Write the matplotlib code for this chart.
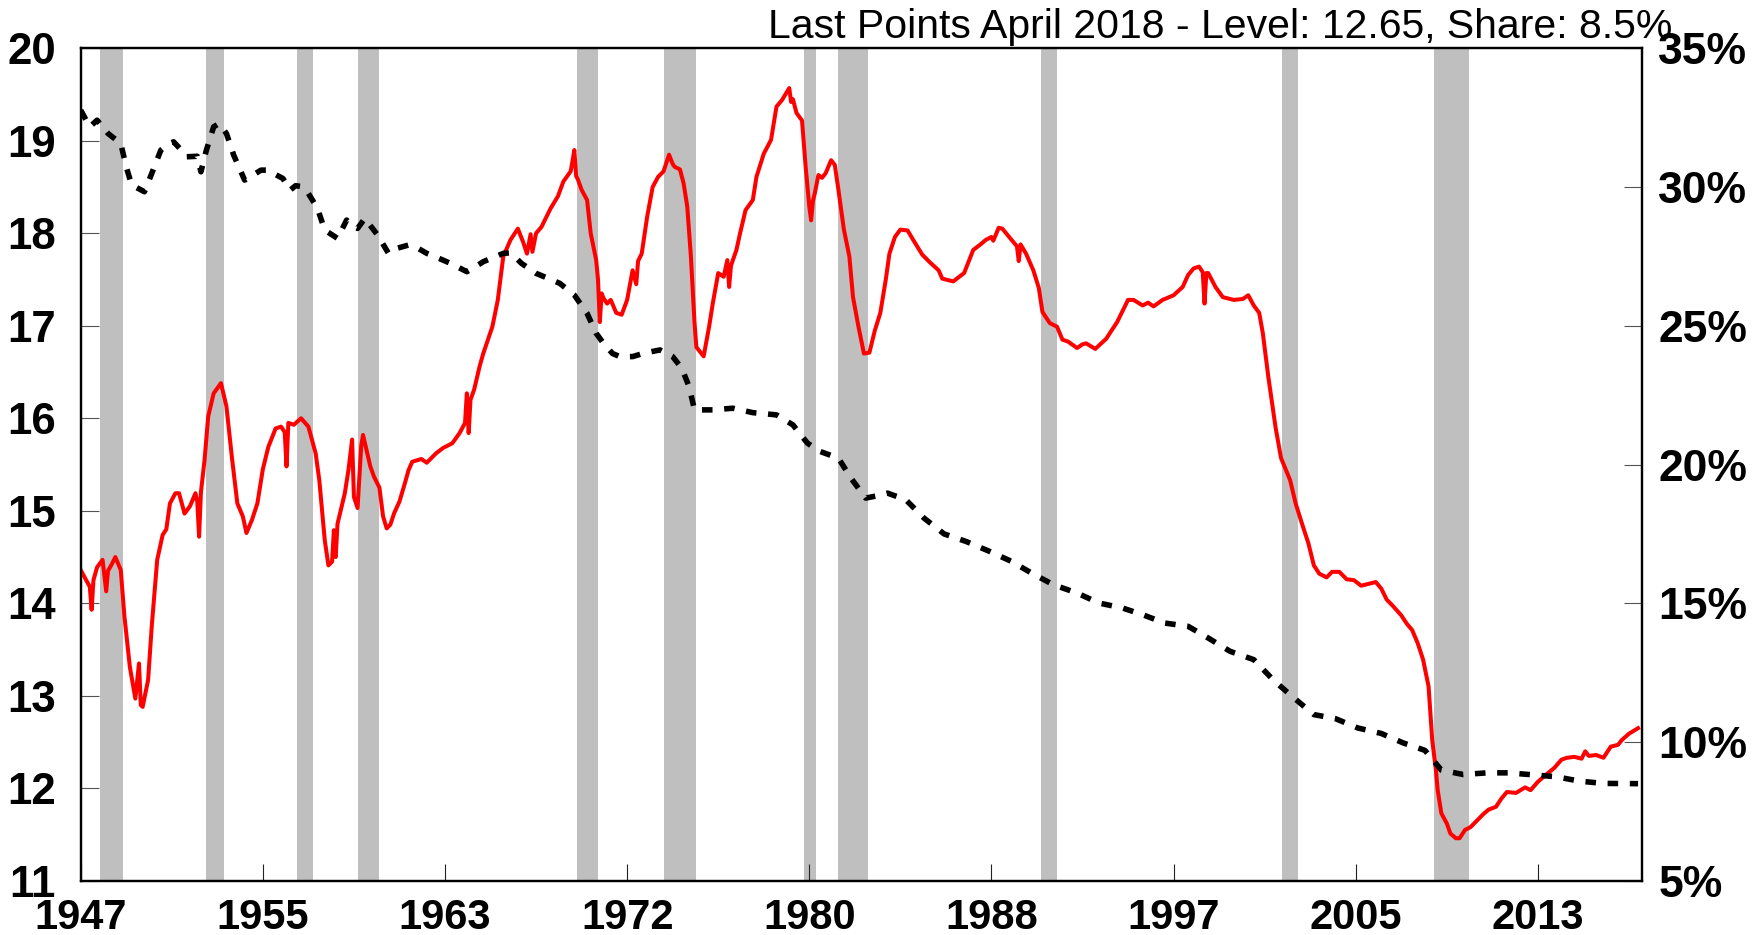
import matplotlib
matplotlib.use("Agg")
import matplotlib.pyplot as plt
from matplotlib import font_manager

# ---------------- data (month index counted from Jan 1947) ----------------
level_month = [0, 3, 5, 6, 7, 9, 12, 14, 15, 17, 19, 22, 24, 27, 30, 32, 33, 34, 37, 39,
               42, 45, 47, 49, 52, 54, 57, 60, 63, 64, 65, 66, 68, 70, 73, 77, 80, 83, 86, 89,
               91, 94, 97, 100, 103, 107, 110, 112, 113, 114, 117, 121, 125, 129, 131, 134, 136, 138, 139, 140,
               141, 145, 147, 149, 150, 152, 154, 155, 159, 161, 164, 166, 168, 170, 172, 175, 178, 180, 182, 187,
               190, 195, 199, 204, 208, 211, 212, 213, 214, 216, 219, 221, 226, 229, 232, 236, 240, 243, 245, 247,
               248, 250, 253, 258, 262, 265, 269, 270, 271, 272, 273, 275, 278, 280, 283, 284, 285, 286, 287, 289,
               291, 294, 297, 300, 303, 305, 306, 308, 311, 314, 317, 320, 323, 325, 326, 329, 331, 333, 335, 337,
               338, 342, 345, 347, 350, 353, 355, 356, 357, 360, 362, 365, 369, 371, 375, 379, 382, 385, 389, 390,
               391, 393, 396, 398, 400, 401, 402, 403, 405, 407, 409, 412, 414, 416, 419, 422, 424, 427, 430, 433,
               436, 439, 442, 444, 447, 450, 454, 457, 462, 466, 471, 473, 479, 485, 490, 494, 497, 500, 501, 504,
               506, 511, 514, 515, 516, 519, 523, 526, 528, 532, 536, 539, 542, 547, 550, 552, 557, 563, 569, 575,
               578, 583, 586, 589, 594, 600, 605, 608, 611, 614, 616, 617, 618, 619, 623, 627, 633, 638, 641, 644,
               647, 649, 652, 656, 659, 664, 667, 671, 674, 677, 680, 684, 687, 691, 695, 699, 703, 707, 711, 714,
               717, 720, 725, 728, 731, 734, 737, 740, 741, 742, 744, 745, 747, 750, 752, 755, 757, 760, 763, 767,
               770, 773, 777, 780, 783, 788, 793, 796, 800, 804, 809, 813, 816, 820, 824, 826, 828, 832, 836, 840,
               844, 846, 850, 855]
level_value = [14.36, 14.25, 14.18, 13.93, 14.25, 14.39, 14.47, 14.13, 14.35, 14.42, 14.50, 14.36, 13.86, 13.31, 12.97, 13.35, 12.90, 12.88, 13.17, 13.75,
               14.47, 14.74, 14.80, 15.08, 15.19, 15.19, 14.97, 15.05, 15.19, 15.10, 14.72, 15.20, 15.55, 16.02, 16.27, 16.38, 16.13, 15.58, 15.08, 14.94,
               14.76, 14.90, 15.08, 15.45, 15.69, 15.89, 15.91, 15.85, 15.48, 15.95, 15.93, 16.00, 15.91, 15.62, 15.33, 14.68, 14.41, 14.45, 14.79, 14.50,
               14.86, 15.19, 15.44, 15.77, 15.15, 15.03, 15.70, 15.82, 15.48, 15.37, 15.25, 14.94, 14.81, 14.85, 14.97, 15.10, 15.30, 15.44, 15.53, 15.56,
               15.52, 15.62, 15.68, 15.73, 15.84, 15.95, 16.27, 15.84, 16.20, 16.31, 16.56, 16.70, 16.99, 17.28, 17.75, 17.93, 18.05, 17.90, 17.78, 17.99,
               17.80, 18.00, 18.07, 18.27, 18.40, 18.56, 18.67, 18.78, 18.90, 18.62, 18.58, 18.47, 18.36, 18.00, 17.71, 17.50, 17.04, 17.35, 17.30, 17.24,
               17.28, 17.14, 17.12, 17.28, 17.60, 17.45, 17.70, 17.78, 18.18, 18.50, 18.61, 18.67, 18.85, 18.75, 18.72, 18.69, 18.54, 18.29, 17.75, 17.03,
               16.77, 16.67, 16.99, 17.24, 17.57, 17.53, 17.71, 17.42, 17.65, 17.82, 18.00, 18.25, 18.36, 18.61, 18.86, 19.01, 19.37, 19.44, 19.57, 19.42,
               19.45, 19.30, 19.22, 18.72, 18.29, 18.14, 18.35, 18.43, 18.63, 18.60, 18.65, 18.79, 18.74, 18.47, 18.04, 17.75, 17.31, 16.99, 16.70, 16.71,
               16.95, 17.14, 17.50, 17.78, 17.96, 18.04, 18.03, 17.93, 17.77, 17.69, 17.60, 17.51, 17.48, 17.57, 17.82, 17.88, 17.93, 17.96, 17.92, 18.06,
               18.05, 17.93, 17.86, 17.70, 17.88, 17.78, 17.60, 17.41, 17.15, 17.03, 16.99, 16.85, 16.83, 16.76, 16.80, 16.81, 16.75, 16.86, 17.04, 17.28,
               17.28, 17.22, 17.25, 17.21, 17.28, 17.33, 17.42, 17.55, 17.62, 17.64, 17.58, 17.24, 17.57, 17.57, 17.42, 17.31, 17.28, 17.29, 17.33, 17.22,
               17.14, 16.92, 16.45, 15.90, 15.57, 15.33, 15.08, 14.83, 14.65, 14.41, 14.32, 14.28, 14.34, 14.34, 14.26, 14.25, 14.19, 14.21, 14.23, 14.16,
               14.04, 13.98, 13.87, 13.78, 13.71, 13.57, 13.39, 13.10, 12.81, 12.52, 12.20, 11.98, 11.73, 11.62, 11.51, 11.46, 11.46, 11.55, 11.58, 11.66,
               11.72, 11.77, 11.80, 11.89, 11.96, 11.95, 12.01, 11.98, 12.07, 12.14, 12.22, 12.31, 12.33, 12.34, 12.32, 12.40, 12.35, 12.36, 12.33, 12.45,
               12.47, 12.52, 12.59, 12.65]

share_month = [0, 5, 9, 15, 22, 25, 28, 33, 35, 39, 44, 48, 51, 55, 58, 64, 66, 69, 73, 76,
               80, 84, 90, 95, 99, 103, 107, 111, 115, 118, 122, 125, 130, 134, 141, 146, 149, 152, 156, 163,
               169, 174, 180, 185, 190, 196, 203, 212, 216, 221, 232, 236, 242, 250, 257, 263, 271, 278, 283, 287,
               292, 296, 303, 309, 318, 325, 330, 334, 337, 347, 358, 369, 382, 391, 399, 406, 416, 423, 431, 439,
               443, 453, 463, 474, 486, 499, 511, 522, 534, 547, 559, 572, 583, 595, 608, 619, 631, 644, 655, 665,
               677, 689, 701, 714, 726, 738, 747, 759, 772, 784, 797, 810, 823, 836, 855]
share_value = [32.77, 32.17, 32.41, 31.93, 31.57, 30.73, 30.07, 29.90, 29.83, 30.49, 31.33, 31.55, 31.63, 31.35, 31.09, 31.11, 30.55, 31.33, 32.17, 32.29,
               31.93, 31.15, 30.25, 30.45, 30.61, 30.61, 30.45, 30.31, 29.89, 30.05, 30.01, 29.77, 29.23, 28.45, 28.15, 28.81, 28.60, 28.51, 28.87, 28.27,
               27.61, 27.80, 27.91, 27.80, 27.61, 27.45, 27.25, 26.95, 27.10, 27.31, 27.61, 27.63, 27.25, 26.89, 26.70, 26.53, 26.11, 25.45, 24.73, 24.37,
               24.00, 23.89, 23.89, 24.01, 24.13, 23.89, 23.47, 22.81, 21.97, 21.97, 22.03, 21.87, 21.79, 21.43, 20.77, 20.47, 20.23, 19.50, 18.79, 18.90,
               18.97, 18.73, 18.07, 17.50, 17.23, 16.87, 16.51, 16.09, 15.67, 15.37, 15.01, 14.83, 14.59, 14.29, 14.17, 13.75, 13.27, 12.97, 12.22, 11.65,
               10.99, 10.84, 10.51, 10.31, 9.97, 9.70, 8.99, 8.83, 8.89, 8.89, 8.82, 8.75, 8.59, 8.51, 8.50]

recession_start = [10.6, 68.6, 119.0, 152.0, 272.3, 320.5, 397.0, 415.8, 527.0, 659.4, 742.9]
recession_end = [23.0, 78.8, 127.8, 163.6, 284.0, 337.9, 403.6, 432.3, 535.9, 668.2, 762.1]

x_tick_pos = [0, 100, 200, 300, 400, 500, 600, 700, 800]
x_tick_labels = ["1947", "1955", "1963", "1972", "1980", "1988", "1997", "2005", "2013"]
left_ticks = [11, 12, 13, 14, 15, 16, 17, 18, 19, 20]
right_ticks = [5, 10, 15, 20, 25, 30, 35]
title_text = "Last Points April 2018 - Level: 12.65, Share: 8.5%"

# ---------------- fonts ----------------
avail = {f.name for f in font_manager.fontManager.ttflist}
def pick(fams):
    for f in fams:
        if f in avail:
            return f
    return "DejaVu Sans"
FONT = pick(["Liberation Sans", "Arial", "DejaVu Sans"])

# ---------------- figure ----------------
W, H = 1760, 935
fig = plt.figure(figsize=(W / 100, H / 100), dpi=100)
L, R, T, B = 80.7, 1641.7, 48.3, 880.8
ax = fig.add_axes([L / W, 1 - B / H, (R - L) / W, (B - T) / H])
ax2 = ax.twinx()

for s, e in zip(recession_start, recession_end):
    ax.axvspan(s, e, color="#BFBFBF", lw=0, zorder=0)

ax.plot(level_month, level_value, color="#FF0000", lw=2.9, zorder=3, solid_joinstyle="round")
ax2.plot(share_month, share_value, color="black", lw=4.0, dashes=(1.9, 2.1), zorder=3)

ax.set_xlim(0, 857)
ax.set_ylim(11, 20)
ax2.set_ylim(5, 35)

ax.set_xticks(x_tick_pos)
ax.set_xticklabels(x_tick_labels)
ax.set_yticks(left_ticks)
ax.set_yticklabels([str(v) for v in left_ticks])
ax2.set_yticks(right_ticks)
ax2.set_yticklabels([f"{v}%" for v in right_ticks])

ax.tick_params(axis="x", direction="in", length=12.5, width=0.8, color="#222222", pad=12.5,
               labelsize=30)
ax.tick_params(axis="y", direction="in", length=13, width=0.8, color="#555555", pad=18,
               labelsize=31.5)
ax2.tick_params(axis="y", direction="in", length=13, width=0.8, color="#555555", pad=12,
                labelsize=32)
for lbl in ax.get_xticklabels() + ax.get_yticklabels() + ax2.get_yticklabels():
    lbl.set_fontweight("bold")
    lbl.set_family(FONT)

for a in (ax, ax2):
    for sp in a.spines.values():
        sp.set_linewidth(1.6)
        sp.set_color("black")

fig.text(1672 / W, 1 - 38 / H, title_text, ha="right", va="baseline",
         fontsize=29.5, family=FONT, color="black")

fig.savefig("out.png", dpi=100)
